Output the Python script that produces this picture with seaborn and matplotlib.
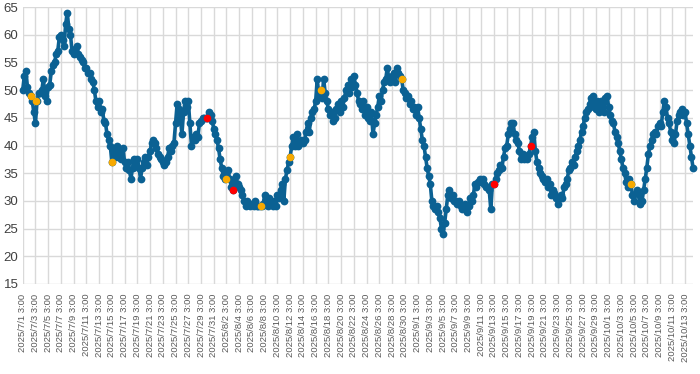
import pandas as pd
import seaborn as sns
import matplotlib.pyplot as plt

start = "2025-07-01 03:00"

# readings every 6 hours, one row per day
values = [
    50, 52.5, 53.5, 50.5,
    49.5, 49, 48, 46,
    44, 48, 49.5, 49.5,
    50, 52, 49, 48,
    50.5, 51, 53.5, 54.5,
    55, 56.5, 57, 59.5,
    60, 59, 58, 62,
    64, 61, 60, 57,
    56.5, 57.5, 58, 56.5,
    56, 55.5, 55, 54,
    54, 53, 53, 52,
    51.5, 50, 48, 47,
    48, 46, 46.5, 44.5,
    44, 42, 41, 40,
    37, 39.5, 38, 40,
    38, 39, 37.5, 39.5,
    37, 36, 37, 35.5,
    34, 36, 37.5, 36.5,
    37.5, 36, 34, 36,
    37, 38, 36.5, 38,
    39, 40.5, 41, 40.5,
    39.5, 38.5, 38, 37.5,
    37, 36.5, 37, 38,
    39.5, 39, 40, 40.5,
    44, 47.5, 46.5, 45,
    42, 46, 48, 47,
    48, 44, 40, 41.5,
    41, 42, 41.5, 44,
    44.5, 45, 45, 45,
    45, 46, 45.5, 44.5,
    43, 42, 41, 39.5,
    37.5, 36, 34.5, 34,
    35, 35.5, 34, 32.5,
    32, 33, 34.5, 33,
    32.5, 32, 31, 30,
    29, 30, 29.5, 29,
    29.5, 29, 30, 29,
    29, 29, 29, 29.5,
    31, 30, 29, 30.5,
    29.5, 29, 30, 29,
    31, 30.5, 32, 33,
    30, 34, 35.5, 37,
    38, 40, 41.5, 40,
    42, 40, 40.5, 41,
    40.5, 41, 42.5, 44,
    42.5, 45, 46, 46.5,
    48, 52, 49, 50,
    48.5, 52, 49.5, 48,
    46.5, 45.5, 46, 44.5,
    45, 46.5, 47.5, 46,
    48, 47, 48.5, 50,
    51, 49.5, 52, 50.5,
    52.5, 51, 49.5, 48,
    47.5, 46.5, 48, 45.5,
    47, 45, 44.5, 46,
    42, 44, 45.5, 47,
    49, 48, 50, 51.5,
    52, 54, 52, 51.5,
    52.5, 53, 51.5, 54,
    53, 52.5, 52, 50,
    49.5, 48.5, 49, 47.5,
    48, 46.5, 47, 45.5,
    47, 45, 43, 41,
    40, 38, 36, 34.5,
    33, 30, 29, 28.5,
    29, 28, 27, 25,
    24, 26, 28.5, 31,
    32, 30.5, 31, 30,
    30, 29.5, 30, 29,
    28.5, 29, 29.5, 28,
    29, 30.5, 30, 31,
    33, 32.5, 33.5, 34,
    33.5, 34, 33, 32.5,
    32.5, 32, 28.5, 33,
    33, 34, 35, 35.5,
    36.5, 36, 38, 39.5,
    40, 42, 43, 44,
    44, 42, 41, 40.5,
    39, 37.5, 38.5, 37.5,
    38, 37.5, 38.5, 40,
    41.5, 42.5, 39, 37,
    36, 35, 34.5, 34,
    33.5, 34, 32.5, 33,
    31, 32, 31.5, 30.5,
    29.5, 30.5, 31, 30.5,
    32.5, 33, 34, 35.5,
    36, 37, 36.5, 38,
    39, 40, 41, 42.5,
    43.5, 45, 46, 46.5,
    47.5, 48.5, 49, 47,
    46.5, 48, 46, 48,
    47, 46, 48.5, 49,
    47, 45.5, 44.5, 44,
    42.5, 41.5, 40.5, 39,
    37.5, 36, 35, 33.5,
    32.5, 34, 33, 31,
    30, 31.5, 32, 31,
    29.5, 30, 32, 34,
    36, 38.5, 40, 41,
    42, 42.5, 42, 43.5,
    44, 43.5, 46, 48,
    47, 45, 44, 42.5,
    41, 40.5, 42, 44.5,
    45.5, 46, 46.5, 45.5,
    46, 44, 42, 40,
    38, 36,
]

orange_times = ["2025-07-02 09:00", "2025-07-03 06:00", "2025-07-15 03:00",
                "2025-08-02 00:00", "2025-08-07 14:00", "2025-08-12 03:00",
                "2025-08-17 01:00", "2025-08-29 17:00", "2025-10-04 17:00"]
orange_vals = [49, 48, 37, 34, 29, 38, 50, 52, 33]
red_times = ["2025-07-30 03:00", "2025-08-03 03:00", "2025-09-13 03:00",
             "2025-09-19 00:00"]
red_vals = [45, 32, 33, 40]

blue = "#0b6193"

times = pd.date_range(start, periods=len(values), freq="6h")
df = pd.DataFrame({"time": times, "value": values})

sns.set_style("white")
plt.rcParams["font.family"] = ["Liberation Sans", "DejaVu Sans"]

fig = plt.figure(figsize=(7, 3.74), dpi=100)
ax = fig.add_axes([22.7 / 700, 1 - 284 / 374, (693 - 22.7) / 700, (284 - 7) / 374])

sns.lineplot(data=df, x="time", y="value", ax=ax, color=blue, lw=2.6,
             marker="o", markersize=5.6, markeredgewidth=0)
sns.scatterplot(x=pd.to_datetime(orange_times), y=orange_vals, ax=ax,
                color="#f7a900", s=30, linewidth=0, zorder=5)
sns.scatterplot(x=pd.to_datetime(red_times), y=red_vals, ax=ax,
                color="#ff0000", s=30, linewidth=0, zorder=5)
for ln in ax.lines:
    ln.set_clip_on(False)

ticks = pd.date_range(start, "2025-10-13 03:00", freq="2D")
ax.set_xticks(ticks)
ax.set_xticklabels([f"{t.year}/{t.month}/{t.day} {t.hour}:{t.minute:02d}" for t in ticks],
                   rotation=90, fontsize=6.8, color="#595959")
ax.set_xlim(times[0], times[-1])
ax.set_ylim(15, 65)
ax.set_yticks(range(15, 66, 5))
ax.tick_params(axis="y", labelsize=9.5, labelcolor="#404040", length=0, pad=3)
ax.tick_params(axis="x", length=0, pad=7)
ax.grid(True, color="#d9d9d9", lw=1)
ax.set_axisbelow(True)
for s in ax.spines.values():
    s.set_visible(False)
ax.set_xlabel("")
ax.set_ylabel("")

fig.savefig("out.png", dpi=100)
